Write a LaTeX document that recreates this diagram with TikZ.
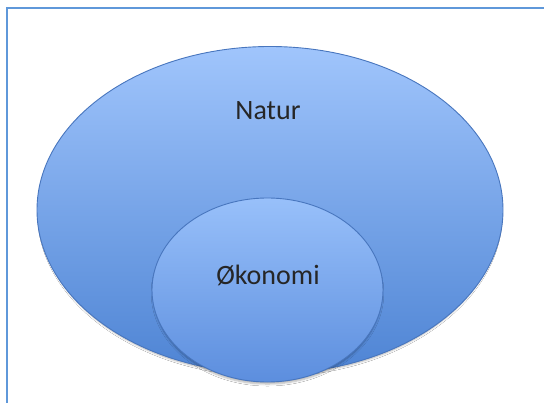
\documentclass[tikz,border=0pt]{standalone}
\usepackage{fontspec}
\setmainfont{Carlito}
\usetikzlibrary{shapes.geometric,shadows.blur}
\definecolor{frameblue}{RGB}{95,152,218}
\definecolor{edgeblue}{RGB}{72,118,190}
\definecolor{topblue}{RGB}{160,197,252}
\definecolor{botblue}{RGB}{78,132,212}
\definecolor{smtop}{RGB}{152,192,250}
\definecolor{smbot}{RGB}{92,142,222}
\tikzset{
  setbox/.style={ellipse, draw=edgeblue, line width=0.9pt, inner sep=0pt,
    shading=axis, shading angle=0,
    blur shadow={shadow xshift=0pt, shadow yshift=-3pt, shadow blur steps=5,
      shadow blur radius=2pt, shadow opacity=30, shadow scale=0.99}},
  lbl/.style={font=\fontsize{28}{32}\selectfont, text=black!85}
}
\begin{document}
\begin{tikzpicture}[x=1pt,y=-1pt]
\useasboundingbox (0,0) rectangle (544,403);
\fill[white] (0,0) rectangle (544,403);
\draw[frameblue, line width=2.4pt] (544,8) -- (7,8) -- (7,404);
\node[setbox, top color=topblue, bottom color=botblue,
  minimum width=466pt, minimum height=327pt] (natur) at (270,210) {};
\node[setbox, top color=smtop, bottom color=smbot,
  minimum width=231pt, minimum height=184pt] (okonomi) at (267.5,290) {};
\node[lbl] (naturtext) at (268,111) {Natur};
\node[lbl] (okonomitext) at (268,275) {Økonomi};
\end{tikzpicture}
\end{document}
